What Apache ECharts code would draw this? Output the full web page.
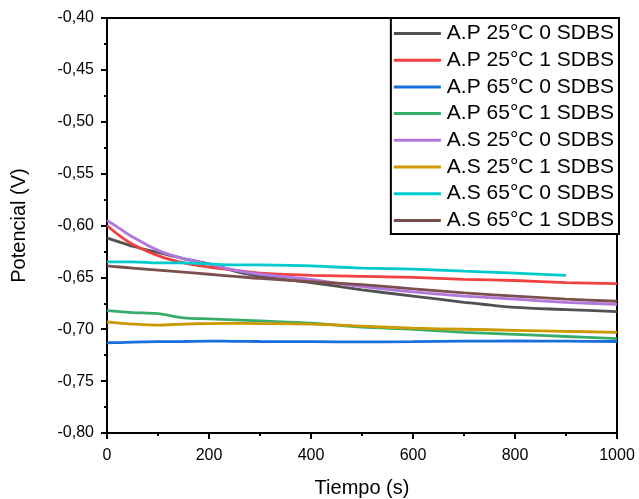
<!DOCTYPE html>
<html>
<head>
<meta charset="utf-8">
<script src="https://cdn.jsdelivr.net/npm/echarts@6/dist/echarts.min.js"></script>
<style>
  html, body { margin: 0; padding: 0; background: #fff; }
  #chart { width: 639px; height: 499px; }
</style>
</head>
<body>
<div id="chart"></div>
<script>
// tiempo (s)
var tiempo = [0, 25, 50, 100, 150, 200, 250, 300, 400, 500, 600, 700, 800, 900, 1000];

var nombres = ['A.P 25°C 0 SDBS', 'A.P 25°C 1 SDBS', 'A.P 65°C 0 SDBS', 'A.P 65°C 1 SDBS',
               'A.S 25°C 0 SDBS', 'A.S 25°C 1 SDBS', 'A.S 65°C 0 SDBS', 'A.S 65°C 1 SDBS'];
var colores = ['#515151', '#F14040', '#1A6FDF', '#37AD6B', '#B177DE', '#CC9900', '#00CBCC', '#7D4E4E'];

// potencial (V)
var ap25_0 = [-0.612, -0.616, -0.620, -0.626, -0.632, -0.637, -0.644, -0.649, -0.655, -0.662, -0.668, -0.674, -0.679, -0.681, -0.683];
var ap25_1 = [-0.600, -0.610, -0.618, -0.629, -0.636, -0.640, -0.643, -0.646, -0.648, -0.649, -0.650, -0.652, -0.653, -0.655, -0.656];
var ap65_0 = [-0.713, -0.7128, -0.7125, -0.712, -0.7118, -0.7115, -0.7116, -0.7118, -0.712, -0.7122, -0.712, -0.7115, -0.7113, -0.7115, -0.7118];
var ap65_1 = [-0.682, -0.683, -0.684, -0.685, -0.689, -0.690, -0.691, -0.692, -0.694, -0.698, -0.700, -0.703, -0.705, -0.707, -0.709];
var as25_0 = [-0.595, -0.603, -0.611, -0.624, -0.632, -0.637, -0.643, -0.647, -0.652, -0.659, -0.664, -0.668, -0.671, -0.674, -0.676];
var as25_1 = [-0.693, -0.694, -0.695, -0.696, -0.695, -0.6945, -0.6943, -0.6945, -0.695, -0.697, -0.699, -0.700, -0.701, -0.702, -0.703];
var as65_0 = [-0.635, -0.635, -0.635, -0.636, -0.636, -0.637, -0.638, -0.638, -0.639, -0.641, -0.642, -0.644, -0.646, -0.648, null];
var as65_1 = [-0.639, -0.640, -0.641, -0.643, -0.645, -0.647, -0.649, -0.651, -0.654, -0.657, -0.661, -0.665, -0.668, -0.671, -0.673];

var valores = [ap25_0, ap25_1, ap65_0, ap65_1, as25_0, as25_1, as65_0, as65_1];

var fuente = 'Liberation Sans, Arial, sans-serif';

var chart = echarts.init(document.getElementById('chart'));

var series = valores.map(function (v, i) {
  return {
    name: nombres[i],
    type: 'line',
    symbol: 'none',
    smooth: 0.3,
    data: tiempo.map(function (t, j) { return v[j] === null ? null : [t, v[j]]; }),
    lineStyle: { width: 2.8, color: colores[i] },
    itemStyle: { color: colores[i] }
  };
});

var option = {
  animation: false,
  backgroundColor: '#fff',
  textStyle: { fontFamily: fuente },
  grid: {
    left: 107, right: 22, top: 18, bottom: 66,
    outerBoundsMode: 'none',
    show: true, borderColor: '#000', borderWidth: 2
  },
  legend: {
    orient: 'vertical',
    right: 20,
    top: 18,
    data: nombres,
    icon: 'rect',
    itemWidth: 47,
    itemHeight: 3,
    itemGap: 5.7,
    padding: [5, 5, 3, 3],
    borderColor: '#000',
    borderWidth: 2,
    backgroundColor: '#fff',
    textStyle: { fontFamily: fuente, fontSize: 21, color: '#000', padding: [0, 0, 0, 1] }
  },
  xAxis: {
    type: 'value',
    min: 0, max: 1000, interval: 200,
    name: 'Tiempo (s)',
    nameLocation: 'middle',
    nameGap: 45,
    nameTextStyle: { fontFamily: fuente, fontSize: 20, color: '#000' },
    axisLine: { show: true, lineStyle: { color: '#000', width: 2 } },
    axisTick: { show: true, length: 6, lineStyle: { color: '#000', width: 2 } },
    minorTick: { show: true, splitNumber: 2, length: 3, lineStyle: { color: '#000', width: 2 } },
    axisLabel: {
      fontFamily: fuente, fontSize: 16, color: '#000', margin: 15,
      formatter: function (v) { return String(v); }
    },
    splitLine: { show: false }
  },
  yAxis: {
    type: 'value',
    min: -0.8, max: -0.4, interval: 0.05,
    name: 'Potencial (V)',
    nameLocation: 'middle',
    nameGap: 78,
    nameTextStyle: { fontFamily: fuente, fontSize: 20, color: '#000' },
    axisLine: { show: true, lineStyle: { color: '#000', width: 2 } },
    axisTick: { show: true, length: 6, lineStyle: { color: '#000', width: 2 } },
    minorTick: { show: true, splitNumber: 2, length: 3, lineStyle: { color: '#000', width: 2 } },
    axisLabel: {
      fontFamily: fuente, fontSize: 16, color: '#000', margin: 13,
      formatter: function (v) { return v.toFixed(2).replace('.', ','); }
    },
    splitLine: { show: false }
  },
  series: series
};

chart.setOption(option);
window.onresize = function () { chart.resize(); };
</script>
</body>
</html>
